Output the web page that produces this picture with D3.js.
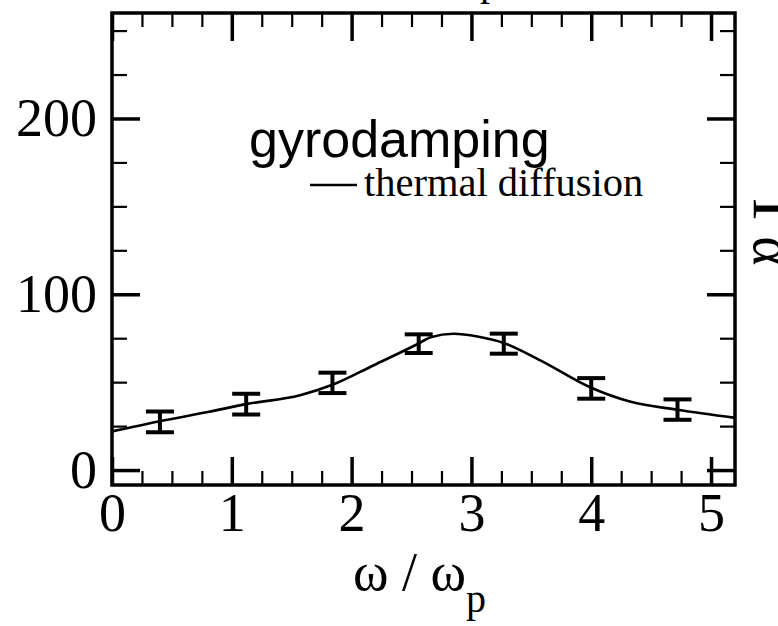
<!DOCTYPE html>
<html lang="en">
<head>
<meta charset="UTF-8">
<title>gyrodamping</title>
<style>
  body { margin: 0; background: #fff; }
  svg { display: block; }
  .tick text { font-family: "Liberation Serif", "Times New Roman", serif; font-size: 54px; fill: #000; }
  .curve { fill: none; stroke: #000; stroke-width: 2.6px; }
  .err { stroke: #000; stroke-width: 4px; fill: none; }
</style>
</head>
<body>
<svg width="778" height="626"></svg>
<script src="https://d3js.org/d3.v7.min.js"></script>
<script>
// thermal diffusion curve
const curveX = [0, 0.4, 0.8, 1.12, 1.57, 1.84, 2.18, 2.56, 2.66, 2.85, 3.05, 3.27, 3.575, 4.0, 4.33, 4.72, 5.2];
const curveY = [22, 27.8, 33, 37.5, 42.6, 48.5, 59.5, 72, 75.5, 77.5, 76, 72.3, 62.4, 46.8, 38.8, 34.3, 29.7];

// gyrodamping points with error bars
const pointX  = [0.40, 1.12, 1.84, 2.56, 3.27, 4.0, 4.72];
const errLow  = [21.5, 31.6, 43.8, 66.6, 66.2, 40.6, 28.6];
const errHigh = [33.3, 43.4, 55.4, 77.2, 77.6, 52.3, 40.2];

// ticks
const xMajor = [0, 1, 2, 3, 4, 5];
const yMajor = [0, 100, 200];
const xMinor = d3.range(0, 5.01, 0.25).filter(v => v % 1 !== 0);
const yMinor = d3.range(0, 251, 25).filter(v => v % 100 !== 0);

const plotL = 112, plotR = 735, plotT = 13, plotB = 485;

const svg = d3.select("svg");

const x = d3.scaleLinear().domain([0, 5.2]).range([plotL, plotR]);
const y = d3.scaleLinear().domain([-8.5, 260]).range([plotB, plotT]);

const noDomain = g => g.select(".domain").remove();

// major ticks, inward, with labels on bottom and left
svg.append("g")
    .attr("transform", "translate(0," + plotB + ")")
    .call(d3.axisBottom(x).tickValues(xMajor).tickSize(-28).tickPadding(8).tickFormat(d3.format("d")))
    .call(noDomain);
svg.append("g")
    .attr("transform", "translate(0," + plotT + ")")
    .call(d3.axisTop(x).tickValues(xMajor).tickSize(-28).tickFormat(""))
    .call(noDomain);
svg.append("g")
    .attr("transform", "translate(" + plotL + ",0)")
    .call(d3.axisLeft(y).tickValues(yMajor).tickSize(-28).tickPadding(15).tickFormat(d3.format("d")))
    .call(noDomain);
svg.append("g")
    .attr("transform", "translate(" + plotR + ",0)")
    .call(d3.axisRight(y).tickValues(yMajor).tickSize(-28).tickFormat(""))
    .call(noDomain);

// minor ticks
svg.append("g").attr("class", "minor")
    .attr("transform", "translate(0," + plotB + ")")
    .call(d3.axisBottom(x).tickValues(xMinor).tickSize(-14).tickFormat(""))
    .call(noDomain);
svg.append("g").attr("class", "minor")
    .attr("transform", "translate(0," + plotT + ")")
    .call(d3.axisTop(x).tickValues(xMinor).tickSize(-14).tickFormat(""))
    .call(noDomain);
svg.append("g").attr("class", "minor")
    .attr("transform", "translate(" + plotL + ",0)")
    .call(d3.axisLeft(y).tickValues(yMinor).tickSize(-15).tickFormat(""))
    .call(noDomain);
svg.append("g").attr("class", "minor")
    .attr("transform", "translate(" + plotR + ",0)")
    .call(d3.axisRight(y).tickValues(yMinor).tickSize(-15).tickFormat(""))
    .call(noDomain);

svg.selectAll(".tick line").attr("stroke", "#000").attr("stroke-width", 3.5);
svg.selectAll(".minor .tick line").attr("stroke-width", 2.2);

// frame
svg.append("rect")
    .attr("x", plotL).attr("y", plotT)
    .attr("width", plotR - plotL).attr("height", plotB - plotT)
    .attr("fill", "none").attr("stroke", "#000").attr("stroke-width", 3.5);

// curve
const line = d3.line()
    .x(i => x(curveX[i]))
    .y(i => y(curveY[i]))
    .curve(d3.curveMonotoneX);
svg.append("path")
    .attr("class", "curve")
    .attr("d", line(d3.range(curveX.length)));

// error bars
const cap = 14;
const bars = svg.append("g").selectAll("g").data(pointX).join("g");
bars.append("line").attr("class", "err")
    .attr("x1", d => x(d)).attr("x2", d => x(d))
    .attr("y1", (d, i) => y(errLow[i])).attr("y2", (d, i) => y(errHigh[i]));
bars.append("line").attr("class", "err")
    .attr("x1", d => x(d) - cap).attr("x2", d => x(d) + cap)
    .attr("y1", (d, i) => y(errLow[i])).attr("y2", (d, i) => y(errLow[i]));
bars.append("line").attr("class", "err")
    .attr("x1", d => x(d) - cap).attr("x2", d => x(d) + cap)
    .attr("y1", (d, i) => y(errHigh[i])).attr("y2", (d, i) => y(errHigh[i]));

// labels
svg.append("text")
    .attr("x", 249).attr("y", 157)
    .style("font-family", "'Liberation Sans', Arial, sans-serif")
    .style("font-size", "52px")
    .text("gyrodamping");

svg.append("line")
    .attr("x1", 310).attr("x2", 357).attr("y1", 185).attr("y2", 185)
    .attr("stroke", "#000").attr("stroke-width", 2.6);
svg.append("text")
    .attr("x", 364).attr("y", 196)
    .style("font-family", "'Liberation Serif', 'Times New Roman', serif")
    .style("font-size", "40.5px")
    .text("thermal diffusion");

const xt = svg.append("text")
    .attr("x", 353).attr("y", 590)
    .style("font-family", "'Liberation Serif', 'Times New Roman', serif")
    .style("font-size", "54px");
xt.append("tspan").text("ω / ω");
xt.append("tspan").attr("dy", 22).style("font-size", "40px").text("p");

// cut-off bits of neighbouring panels
svg.append("text")
    .attr("x", 480).attr("y", -5)
    .style("font-family", "'Liberation Serif', 'Times New Roman', serif")
    .style("font-size", "40px")
    .text("p");

const side = svg.append("text")
    .attr("transform", "translate(754,198) rotate(90)")
    .style("font-family", "'Liberation Serif', 'Times New Roman', serif")
    .style("font-size", "66px");
side.append("tspan").text("Γ");
side.append("tspan").style("font-size", "56px").text("α");
</script>
</body>
</html>
